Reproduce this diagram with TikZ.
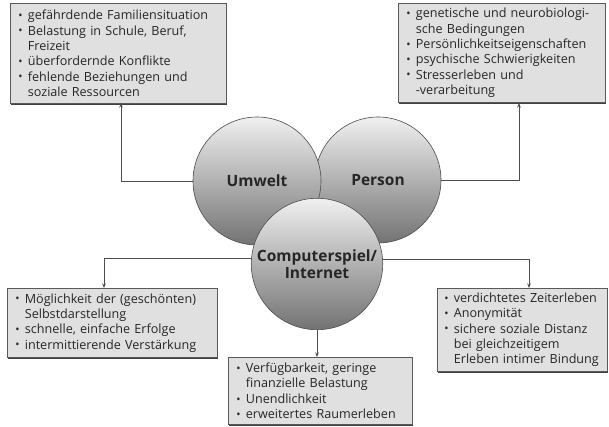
\documentclass[tikz,border=0pt]{standalone}
\usepackage{fontspec}
\setmainfont{Open Sans}
\usetikzlibrary{arrows.meta,shadows}
\newcommand{\bl}[1]{\mbox{\makebox[9.5pt][l]{\raisebox{0.3pt}{\scalebox{0.9}{\textbullet}}}#1}}
\newcommand{\ct}[1]{\mbox{\hspace*{9.5pt}#1}}
\begin{document}
\begin{tikzpicture}[x=1pt,y=-1pt,
  infobox/.style={draw=black!65, fill=black!12, line width=0.7pt, anchor=north west,
    inner xsep=8pt, inner ysep=3pt, align=left, text=black!85,
    font=\fontsize{12.6}{15.4}\selectfont,
    drop shadow={shadow xshift=1pt, shadow yshift=-1.4pt, fill=black!75, opacity=1}},
  ball/.style={circle, draw=black!70, line width=0.6pt, top color=black!6, bottom color=black!55,
    font=\bfseries\fontsize{15.5}{18}\selectfont, text=black!85, align=center},
  conn/.style={draw=black!70, line width=0.6pt},
  arr/.style={conn, -{Stealth[length=4.5pt,width=3.5pt]}}]
\useasboundingbox (0,0) rectangle (609,427);
% boxes
\node[infobox, text width=200pt, minimum height=100pt] (tl) at (10,3) {%
\bl{gefährdende Familiensituation}\\
\bl{Belastung in Schule, Beruf,}\\
\ct{Freizeit}\\
\bl{überfordernde Konflikte}\\
\bl{fehlende Beziehungen und}\\
\ct{soziale Ressourcen}};
\node[infobox, text width=191pt, minimum height=99pt] (tr) at (398,3) {%
\bl{genetische und neurobiologi-}\\
\ct{sche Bedingungen}\\
\bl{Persönlichkeitseigenschaften}\\
\bl{psychische Schwierigkeiten}\\
\bl{Stresserleben und}\\
\ct{-verarbeitung}};
\node[infobox, text width=194pt, minimum height=69pt] (bl) at (7,288) {%
\bl{Möglichkeit der (geschönten)}\\
\ct{Selbstdarstellung}\\
\bl{schnelle, einfache Erfolge}\\
\bl{intermittierende Verstärkung}};
\node[infobox, text width=168pt, minimum height=67pt] (bm) at (228,357) {%
\bl{Verfügbarkeit, geringe}\\
\ct{finanzielle Belastung}\\
\bl{Unendlichkeit}\\
\bl{erweitertes Raumerleben}};
\node[infobox, inner xsep=7pt, text width=156pt, minimum height=83pt] (br) at (437,288) {%
\bl{verdichtetes Zeiterleben}\\
\bl{Anonymität}\\
\bl{sichere soziale Distanz}\\
\ct{bei gleichzeitigem}\\
\ct{Erleben intimer Bindung}};
% circles
\node[ball, minimum size=126pt] (P) at (378,180) {};
\node[ball, minimum size=128pt] (U) at (257,181) {};
\node at (U.center) [font=\bfseries\fontsize{15.5}{18}\selectfont, text=black!85] {Umwelt};
\node at (P.center) [font=\bfseries\fontsize{15.5}{18}\selectfont, text=black!85] {Person};
\node[ball, minimum size=130pt] (C) at (317,264) {Computerspiel/\\[-1pt]Internet};
% connectors
\coordinate (a1) at (121,103);
\coordinate (a2) at (519,103);
\coordinate (a3) at (104,288);
\coordinate (a4) at (529,288);
\draw[arr] (U.west) -| (a1);
\draw[arr] (P.east) -| (a2);
\draw[arr] (C.175.6) -| (a3);
\draw[arr] (C.4.4) -| (a4);
\draw[arr] (C.south) -- (bm.north -| C.south);
\end{tikzpicture}
\end{document}
